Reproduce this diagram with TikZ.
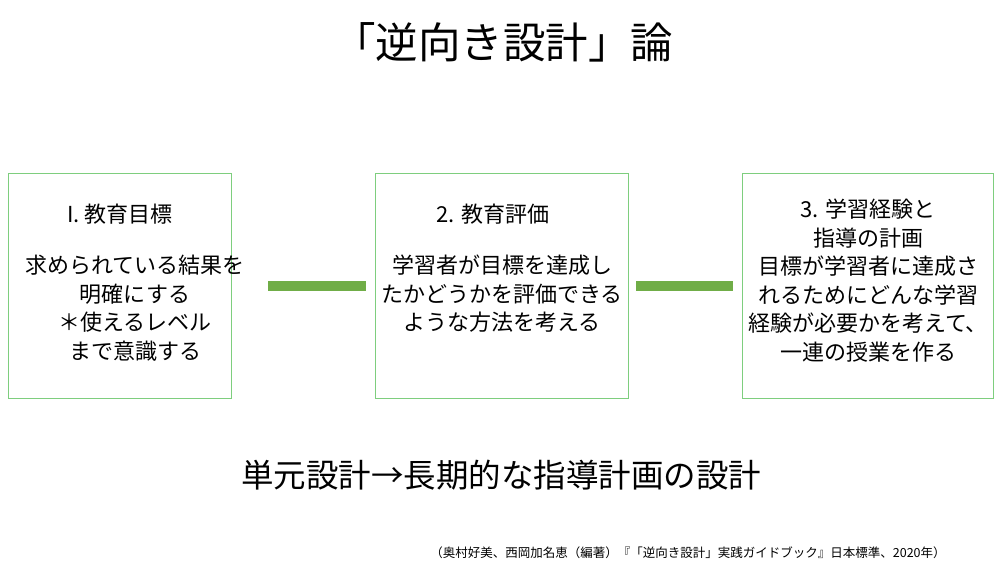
\documentclass[tikz,border=0pt]{standalone}
\usepackage{fontspec}
\setmainfont{Noto Sans CJK JP}
\begin{document}
\begin{tikzpicture}[x=1pt,y=-1pt,
  box/.style={draw=green!45!gray!70, line width=1pt},
  bar/.style={draw=none, fill={rgb,255:red,112;green,173;blue,71}},
  t/.style={font=\fontsize{22}{28.5}\selectfont, align=center, inner sep=0pt}]
\useasboundingbox (0,0) rectangle (1007,574);
\node[font=\fontsize{42.5}{48}\selectfont] (title) at (503,42) {「逆向き設計」論};
\draw[box] (8,173) rectangle (231,398);
\draw[box] (375,173) rectangle (628,398);
\draw[box] (742,173) rectangle (993,398);
\coordinate (b1) at (231,286); \coordinate (b2) at (375,286);
\coordinate (b3) at (628,286); \coordinate (b4) at (742,286);
\fill[bar] (268,281) rectangle (366,291);
\fill[bar] (636,281) rectangle (733,291);
\node[t] (h1) at (120,214) {I. 教育目標};
\node[t, anchor=north] (d1) at (135,255) {求められている結果を\\明確にする\\＊使えるレベル\\まで意識する};
\node[t] (h2) at (493,214) {2. 教育評価};
\node[t, anchor=north] (d2) at (502,255) {学習者が目標を達成し\\たかどうかを評価できる\\ような方法を考える};
\node[t, anchor=north] (d3) at (868,199) {3. 学習経験と\\指導の計画\\目標が学習者に達成さ\\れるためにどんな学習\\経験が必要かを考えて、\\一連の授業を作る};
\node[font=\fontsize{32.5}{38}\selectfont] (sum) at (501,475) {単元設計→長期的な指導計画の設計};
\node[font=\fontsize{12.5}{15}\selectfont] (cite) at (688,553) {（奥村好美、西岡加名恵（編著）『「逆向き設計」実践ガイドブック』日本標準、2020年）};
\end{tikzpicture}
\end{document}
